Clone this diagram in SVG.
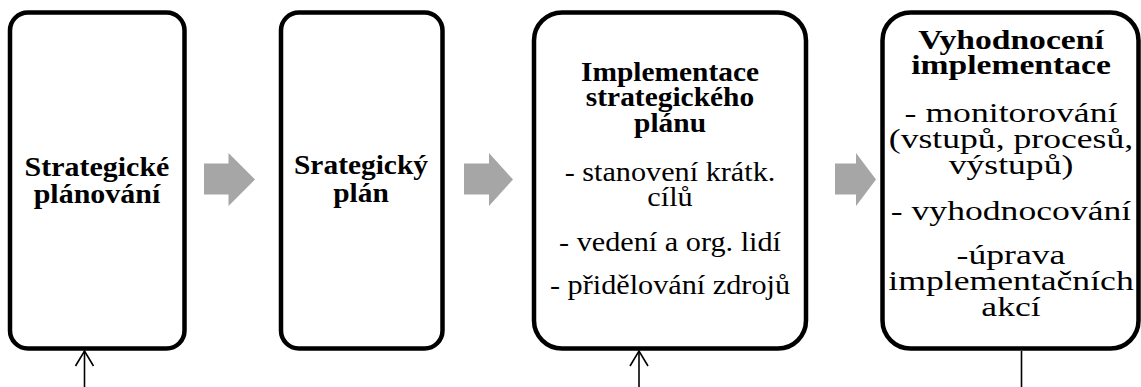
<svg xmlns="http://www.w3.org/2000/svg" width="1141" height="387" viewBox="0 0 1141 387">
<style>
.box{fill:#fff;stroke:#000;stroke-width:4.5}
.garrow{fill:#a6a6a6}
.b{font-family:"Liberation Serif","Times New Roman",serif;font-weight:bold;font-size:27px;fill:#000;text-anchor:middle}
.r{font-family:"Liberation Serif","Times New Roman",serif;font-size:27px;fill:#000;text-anchor:middle}
.conn{stroke:#000;stroke-width:1.6;fill:none}
</style>
<rect width="1141" height="387" fill="#fff"/>
<g id="arrow-right-1"><polygon class="garrow" points="204,163.5 228.5,163.5 228.5,153 255,179.5 228.5,206 228.5,194.5 204,194.5"/></g>
<g id="arrow-right-2"><polygon class="garrow" points="464,163.5 489,163.5 489,153 513,179.5 489,206 489,194.5 464,194.5"/></g>
<g id="arrow-right-3"><polygon class="garrow" points="835,163.5 856,163.5 856,153 876,179.5 856,206 856,194.5 835,194.5"/></g>
<g id="node-planovani">
<rect class="box" x="10" y="12.5" width="174.5" height="336" rx="18"/>
<g transform="translate(97,0) scale(1.11,1)">
<text class="b" x="0" y="176">Strategické</text>
<text class="b" x="0" y="203">plánování</text>
</g>
</g>
<g id="node-plan">
<rect class="box" x="281" y="12.5" width="161.5" height="336" rx="18"/>
<g transform="translate(361,0) scale(1.09,1)">
<text class="b" x="0" y="174">Srategický</text>
<text class="b" x="0" y="202">plán</text>
</g>
</g>
<g id="node-implementace">
<rect class="box" x="534" y="12.5" width="272" height="336" rx="28"/>
<g transform="translate(670,0) scale(1.09,1)">
<text class="b" x="0" y="81">Implementace</text>
<text class="b" x="0" y="106">strategického</text>
<text class="b" x="0" y="132">plánu</text>
</g>
<g transform="translate(670,0) scale(1.12,1)">
<text class="r" x="0" y="181">- stanovení krátk.</text>
<text class="r" x="0" y="206">cílů</text>
<text class="r" x="0" y="251">- vedení a org. lidí</text>
<text class="r" x="0" y="294">- přidělování zdrojů</text>
</g>
</g>
<g id="node-vyhodnoceni">
<rect class="box" x="882.5" y="12.5" width="256" height="336" rx="28"/>
<g transform="translate(1011,0) scale(1.245,1)">
<text class="b" x="0" y="49">Vyhodnocení</text>
<text class="b" x="0" y="74">implementace</text>
</g>
<g transform="translate(1011,0) scale(1.32,1)">
<text class="r" x="0" y="122">- monitorování</text>
<text class="r" x="0" y="148">(vstupů, procesů,</text>
<text class="r" x="0" y="174">výstupů)</text>
<text class="r" x="0" y="220">- vyhodnocování</text>
<text class="r" x="0" y="264">-úprava</text>
<text class="r" x="0" y="290">implementačních</text>
<text class="r" x="0" y="316">akcí</text>
</g>
</g>
<g id="connectors">
<line class="conn" x1="84.5" y1="387" x2="84.5" y2="351"/>
<polyline class="conn" points="75.5,366 84.5,351 93.5,366"/>
<line class="conn" x1="639" y1="387" x2="639" y2="351"/>
<polyline class="conn" points="630,366 639,351 648,366"/>
<line class="conn" x1="1021.5" y1="351" x2="1021.5" y2="387"/>
</g>
</svg>
